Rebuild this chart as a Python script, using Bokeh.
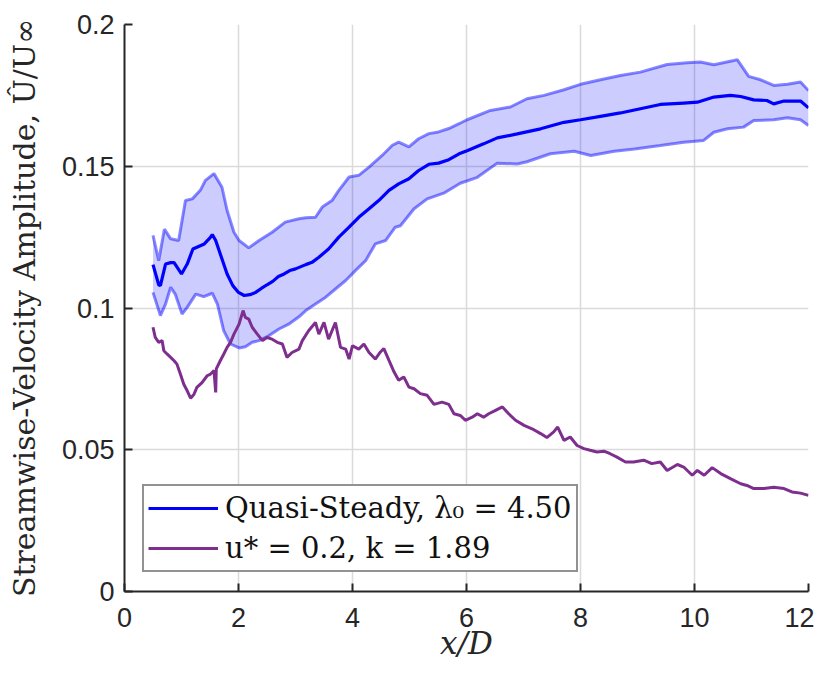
from bokeh.plotting import figure
from bokeh.models import FixedTicker, Legend, LegendItem, Range1d
from bokeh.embed import file_html
from bokeh.resources import INLINE

# ---------------- data ----------------
mean_x = [0.50, 0.60, 0.63, 0.72, 0.81, 0.87, 1.00, 1.10, 1.20, 1.30, 1.40, 1.50, 1.54, 1.60, 1.70, 1.80, 1.90,
          2.00, 2.10, 2.20, 2.30, 2.40, 2.50, 2.60, 2.70, 2.80, 2.90, 3.00, 3.18, 3.29, 3.41, 3.58, 3.76, 3.94,
          4.11, 4.29, 4.46, 4.64, 4.81, 4.99, 5.16, 5.34, 5.51, 5.69, 5.87, 6.01, 6.30, 6.54, 6.89, 7.30, 7.71,
          8.00, 8.35, 8.70, 9.05, 9.40, 9.81, 10.05, 10.34, 10.63, 10.81, 11.04, 11.27, 11.39, 11.57, 11.86, 12.00]
mean_y = [0.1153, 0.1082, 0.1079, 0.1155, 0.1160, 0.1160, 0.1120, 0.1155, 0.1208, 0.1217, 0.1226, 0.1247, 0.1259,
          0.1238, 0.1179, 0.1120, 0.1079, 0.1055, 0.1044, 0.1047, 0.1055, 0.1069, 0.1082, 0.1094, 0.1111, 0.1120,
          0.1132, 0.1138, 0.1153, 0.1161, 0.1179, 0.1208, 0.1250, 0.1285, 0.1320, 0.1350, 0.1379, 0.1415, 0.1438,
          0.1456, 0.1485, 0.1507, 0.1511, 0.1523, 0.1544, 0.1555, 0.1579, 0.1600, 0.1614, 0.1632, 0.1655, 0.1664,
          0.1676, 0.1688, 0.1703, 0.1718, 0.1723, 0.1726, 0.1744, 0.1750, 0.1746, 0.1734, 0.1732, 0.1720, 0.1730,
          0.1730, 0.1706]

upper_x = [0.50, 0.60, 0.70, 0.81, 0.95, 1.07, 1.19, 1.33, 1.42, 1.57, 1.71, 1.80, 1.92, 2.01, 2.18, 2.36, 2.59,
           2.82, 3.06, 3.18, 3.35, 3.47, 3.64, 3.76, 3.94, 4.11, 4.29, 4.52, 4.70, 4.81, 4.99, 5.16, 5.34, 5.51,
           5.69, 5.87, 6.01, 6.42, 6.77, 7.06, 7.36, 7.71, 8.00, 8.35, 8.70, 9.05, 9.52, 9.87, 10.10, 10.34,
           10.69, 10.75, 10.95, 11.16, 11.39, 11.63, 11.86, 12.00]
upper_y = [0.1256, 0.1167, 0.1278, 0.1244, 0.1238, 0.1379, 0.1385, 0.1415, 0.1450, 0.1474, 0.1426, 0.1344, 0.1267,
           0.1238, 0.1212, 0.1238, 0.1267, 0.1303, 0.1315, 0.1318, 0.1320, 0.1356, 0.1379, 0.1415, 0.1462, 0.1468,
           0.1497, 0.1538, 0.1574, 0.1585, 0.1568, 0.1597, 0.1615, 0.1621, 0.1633, 0.1650, 0.1664, 0.1697, 0.1709,
           0.1738, 0.1750, 0.1770, 0.1789, 0.1805, 0.1820, 0.1832, 0.1859, 0.1865, 0.1868, 0.1858, 0.1873, 0.1876,
           0.1817, 0.1805, 0.1785, 0.1789, 0.1797, 0.1767]

lower_x = [0.50, 0.63, 0.72, 0.81, 0.89, 1.01, 1.10, 1.25, 1.39, 1.54, 1.63, 1.74, 1.86, 2.01, 2.12, 2.24, 2.36,
           2.53, 2.71, 2.88, 3.06, 3.18, 3.35, 3.53, 3.70, 3.88, 4.05, 4.23, 4.40, 4.58, 4.75, 4.84, 5.08, 5.31,
           5.60, 5.89, 6.19, 6.54, 6.89, 7.06, 7.47, 7.89, 8.18, 8.59, 8.95, 9.40, 9.81, 10.16, 10.34, 10.58,
           10.86, 11.04, 11.39, 11.63, 11.86, 12.00]
lower_y = [0.1055, 0.0973, 0.1014, 0.1073, 0.1049, 0.0979, 0.1002, 0.1049, 0.1040, 0.1052, 0.1014, 0.0920, 0.0873,
           0.0859, 0.0863, 0.0879, 0.0885, 0.0902, 0.0926, 0.0943, 0.0969, 0.0991, 0.1014, 0.1038, 0.1067, 0.1097,
           0.1132, 0.1167, 0.1226, 0.1238, 0.1285, 0.1290, 0.1350, 0.1385, 0.1405, 0.1440, 0.1461, 0.1511, 0.1508,
           0.1516, 0.1544, 0.1553, 0.1538, 0.1553, 0.1561, 0.1573, 0.1585, 0.1591, 0.1620, 0.1632, 0.1638, 0.1661,
           0.1664, 0.1671, 0.1664, 0.1644]

purple_x = [0.50, 0.54, 0.60, 0.66, 0.69, 0.75, 0.81, 0.87, 0.92, 0.98,
            1.04, 1.10, 1.16, 1.22, 1.27, 1.36, 1.45, 1.51, 1.57, 1.60,
            1.61, 1.68, 1.74, 1.80, 1.86, 1.92, 2.01, 2.08, 2.12, 2.18,
            2.24, 2.33, 2.42, 2.50, 2.59, 2.68, 2.77, 2.85, 2.94, 3.06,
            3.12, 3.23, 3.35, 3.41, 3.50, 3.58, 3.70, 3.79, 3.88, 3.94,
            4.00, 4.11, 4.20, 4.29, 4.40, 4.49, 4.55, 4.64, 4.73, 4.81,
            4.90, 4.99, 5.08, 5.19, 5.31, 5.43, 5.57, 5.69, 5.78, 5.89,
            5.98, 6.10, 6.19, 6.30, 6.39, 6.51, 6.63, 6.74, 6.86, 7.01,
            7.15, 7.30, 7.41, 7.53, 7.60, 7.71, 7.82, 7.94, 8.06, 8.17,
            8.29, 8.41, 8.52, 8.64, 8.79, 8.93, 9.11, 9.25, 9.40, 9.52,
            9.70, 9.81, 9.96, 10.05, 10.17, 10.31, 10.46, 10.63, 10.81, 10.92,
            11.04, 11.22, 11.39, 11.57, 11.71, 11.86, 12.00]
purple_y = [0.0932, 0.0896, 0.0879, 0.0885, 0.0849, 0.0837, 0.0826, 0.0814, 0.0802, 0.0767,
            0.0731, 0.0708, 0.0682, 0.0696, 0.0720, 0.0737, 0.0761, 0.0767, 0.0779, 0.0702,
            0.0785, 0.0814, 0.0837, 0.0861, 0.0879, 0.0908, 0.0943, 0.0991, 0.0967, 0.0961,
            0.0932, 0.0908, 0.0885, 0.0896, 0.0890, 0.0879, 0.0873, 0.0826, 0.0843, 0.0855,
            0.0885, 0.0920, 0.0949, 0.0908, 0.0949, 0.0890, 0.0949, 0.0861, 0.0855, 0.0820,
            0.0867, 0.0855, 0.0873, 0.0843, 0.0820, 0.0845, 0.0857, 0.0815, 0.0774, 0.0745,
            0.0757, 0.0721, 0.0715, 0.0698, 0.0692, 0.0660, 0.0668, 0.0660, 0.0627, 0.0621,
            0.0604, 0.0615, 0.0627, 0.0615, 0.0627, 0.0639, 0.0651, 0.0627, 0.0604, 0.0586,
            0.0574, 0.0557, 0.0543, 0.0563, 0.0580, 0.0533, 0.0545, 0.0515, 0.0504, 0.0498,
            0.0492, 0.0495, 0.0486, 0.0474, 0.0457, 0.0457, 0.0463, 0.0451, 0.0457, 0.0427,
            0.0448, 0.0439, 0.0410, 0.0427, 0.0410, 0.0437, 0.0416, 0.0398, 0.0380, 0.0374,
            0.0363, 0.0363, 0.0368, 0.0363, 0.0351, 0.0347, 0.0339]

x_ticks = [0, 2, 4, 6, 8, 10, 12]
y_ticks = [0, 0.05, 0.1, 0.15, 0.2]
y_tick_labels = ["0", "0.05", "0.1", "0.15", "0.2"]

label_qs = "Quasi-Steady, λ₀ = 4.50"
label_u = "u* = 0.2, k = 1.89"
x_label = "x/D"
y_label = "Streamwise-Velocity Amplitude, Û/U∞"

# ---------------- figure ----------------
p = figure(width=814, height=668, output_backend="svg", toolbar_location=None,
           x_range=Range1d(0, 12), y_range=Range1d(0, 0.2),
           min_border_left=124, min_border_right=6, min_border_top=24, min_border_bottom=77)
p.outline_line_color = None
p.background_fill_color = "white"
p.border_fill_color = "white"

# band fill
band_xs = list(upper_x) + list(reversed(lower_x))
band_ys = list(upper_y) + list(reversed(lower_y))
p.patch(band_xs, band_ys, fill_color="#0000FF", fill_alpha=0.2, line_color=None)
p.line(upper_x, upper_y, line_color="#0000FF", line_alpha=0.47, line_width=3)
p.line(lower_x, lower_y, line_color="#0000FF", line_alpha=0.47, line_width=3)
r_mean = p.line(mean_x, mean_y, line_color="#0000FF", line_width=3.2)
r_purple = p.line(purple_x, purple_y, line_color="#7E2F8E", line_width=3)

# axes
axis_col = "#262626"
p.xaxis.ticker = FixedTicker(ticks=x_ticks)
p.yaxis.ticker = FixedTicker(ticks=y_ticks)
p.yaxis.major_label_overrides = {t: s for t, s in zip(y_ticks, y_tick_labels)}
for ax in (p.xaxis, p.yaxis):
    ax.axis_line_color = axis_col
    ax.axis_line_width = 2
    ax.major_tick_line_color = axis_col
    ax.major_tick_line_width = 2
    ax.major_tick_in = 8
    ax.major_tick_out = 0
    ax.minor_tick_line_color = None
    ax.major_label_text_font = "Liberation Sans"
    ax.major_label_text_font_size = "27px"
    ax.major_label_text_color = axis_col
    ax.axis_label_text_font = "DejaVu Serif"
    ax.axis_label_text_color = axis_col
p.xaxis.major_label_standoff = 16
p.yaxis.major_label_standoff = 10
p.xaxis.axis_label = x_label
p.xaxis.axis_label_text_font_size = "31px"
p.xaxis.axis_label_text_font_style = "italic"
p.xaxis.axis_label_standoff = -5
p.yaxis.axis_label = y_label
p.yaxis.axis_label_text_font_size = "30px"
p.yaxis.axis_label_text_font_style = "normal"
p.yaxis.axis_label_standoff = 17

p.grid.grid_line_color = "#dadada"
p.grid.grid_line_width = 1.5

legend = Legend(items=[LegendItem(label=label_qs, renderers=[r_mean]),
                       LegendItem(label=label_u, renderers=[r_purple])],
                location=(18, 19), margin=0, padding=4, spacing=4,
                glyph_width=70, glyph_height=36, label_height=36, label_standoff=7,
                label_text_font="DejaVu Serif", label_text_font_size="29px",
                label_text_color="#111111",
                border_line_color="#262626", border_line_width=2,
                background_fill_color="white", background_fill_alpha=1)
p.add_layout(legend)

open("out.html", "w").write(file_html(p, INLINE))
